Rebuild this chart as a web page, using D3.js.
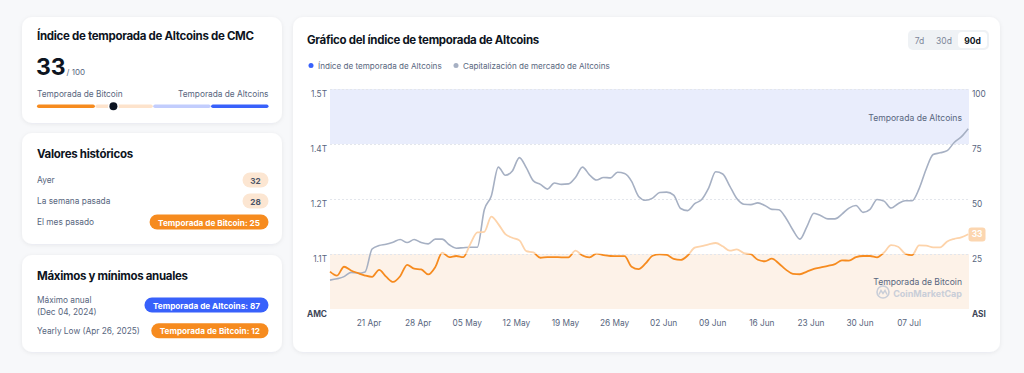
<!DOCTYPE html>
<html><head><meta charset="utf-8">
<script src="https://cdn.jsdelivr.net/npm/d3@7"></script>
<style>
html,body{margin:0;padding:0;background:#f7f8fa;}
svg{display:block;font-family:Inter,"Noto Sans",sans-serif;}
</style></head>
<body><svg id="c" width="1024" height="373"></svg>
<script>
// ---------- DATA ----------
const startDate = new Date(2025, 3, 15, 12); // first daily point (Apr 15)
const altIndex = [17,15.2,19.2,17.5,16.3,15.2,14.6,17.8,14.7,12.3,14.9,20.1,18.3,18,15.7,19,25.6,23.6,24.1,23.6,
  29.5,34.8,35.1,42,38.6,34,32.4,31.2,26.3,25.7,23.3,23.6,23.6,23.5,23.5,26.5,24.3,23.5,25.2,24.5,
  24.1,24,24,19.2,18.1,20.7,24.2,24.8,24.6,22.8,22.3,24.3,27.9,28.6,29.4,30,28.5,26.5,27.1,25.4,
  24.9,22.4,21.7,22.9,20.7,17.9,16,15.8,17,18.2,18.9,19.6,20.4,22.1,22,23.6,24.1,24.1,23.5,25.7,
  29,28.3,25.2,24.5,28.9,28.8,28,28,30.7,31.9,32.6,34];
const altMcap = [1.057,1.060,1.065,1.075,1.073,1.076,1.129,1.137,1.140,1.145,1.151,1.144,1.151,1.144,1.141,1.152,1.152,1.139,1.131,1.132,
  1.133,1.133,1.220,1.252,1.319,1.300,1.310,1.341,1.317,1.287,1.279,1.268,1.282,1.279,1.280,1.295,1.319,1.301,1.289,1.295,
  1.294,1.307,1.304,1.286,1.251,1.242,1.247,1.260,1.261,1.254,1.223,1.218,1.234,1.244,1.271,1.308,1.303,1.275,1.246,1.233,
  1.232,1.236,1.230,1.221,1.220,1.201,1.173,1.152,1.181,1.212,1.206,1.199,1.199,1.210,1.224,1.230,1.214,1.221,1.244,1.240,
  1.224,1.234,1.241,1.241,1.269,1.314,1.348,1.352,1.357,1.376,1.389,1.408];
const indexTicks = [25, 50, 75, 100];
const mcapTickLabels = ["1.1T", "1.2T", "1.4T", "1.5T"];
const currentValue = 33;
const histLabels = ["Ayer", "La semana pasada", "El mes pasado"];
const histValues = [32, 28, 25];
const histPills = ["32", "28", "Temporada de Bitcoin: 25"];
const yearLabels = [["Máximo anual", "(Dec 04, 2024)"], ["Yearly Low (Apr 26, 2025)"]];
const yearPills = ["Temporada de Altcoins: 87", "Temporada de Bitcoin: 12"];
const yearValues = [87, 12];
const ranges = ["7d", "30d", "90d"];

// ---------- DRAW ----------
const svg = d3.select("#c");
const C = {orange:"#f68b1f", peach:"#fde3cc", lblue:"#c2cdfd", blue:"#3861fb", text:"#0d1421", sub:"#58667e"};
const TS = 8.3; // small text size

const defs = svg.append("defs");
const f = defs.append("filter").attr("id","sh").attr("x","-5%").attr("y","-10%").attr("width","110%").attr("height","130%");
f.append("feDropShadow").attr("dx",0).attr("dy",1).attr("stdDeviation",2).attr("flood-color","#1e2a4a").attr("flood-opacity",0.07);

function card(x,y,w,h){
  svg.append("rect").attr("x",x).attr("y",y).attr("width",w).attr("height",h).attr("rx",10)
    .attr("fill","#fff").attr("filter","url(#sh)");
}
function title(x,y,t){
  svg.append("text").attr("x",x).attr("y",y).attr("font-size",11.5).attr("letter-spacing",-0.3)
    .attr("font-weight",700).attr("fill",C.text).text(t);
}
function label(x,y,t){
  return svg.append("text").attr("x",x).attr("y",y).attr("dominant-baseline","central").attr("font-size",TS).attr("fill",C.sub).text(t);
}
function pill(xr, cy, text, bg, fg, w){
  const g = svg.append("g");
  const t = g.append("text").attr("font-size",8.2).attr("font-weight",700).attr("fill",fg)
    .attr("text-anchor","middle").attr("dominant-baseline","central").text(text);
  const tw = t.node().getComputedTextLength();
  const pw = w || tw + 17;
  g.insert("rect","text").attr("x",xr-pw).attr("y",cy-7.5).attr("width",pw).attr("height",15).attr("rx",7.5).attr("fill",bg);
  t.attr("x",xr-pw/2).attr("y",cy+0.5);
}

// Card 1
card(22,17,260,106);
title(37,40,"Índice de temporada de Altcoins de CMC");
svg.append("text").attr("x",36).attr("y",74.5).attr("font-size",23).attr("font-weight",700).attr("fill",C.text).text(currentValue);
svg.append("text").attr("x",66.5).attr("y",74.5).attr("font-size",8).attr("fill",C.sub).text("/ 100");
label(37,93.5,"Temporada de Bitcoin");
label(268.5,93.5,"Temporada de Altcoins").attr("text-anchor","end");
const gx = d3.scaleLinear().domain([0,100]).range([37,268.5]);
[[0,25,C.orange],[25,50,C.peach],[50,75,C.lblue],[75,100,C.blue]].forEach(s=>{
  svg.append("rect").attr("x",gx(s[0])+(s[0]?0.5:0)).attr("y",104.5).attr("width",gx(s[1])-gx(s[0])-(s[0]?0.5:0)).attr("height",3.5)
    .attr("rx",1.75).attr("fill",s[2]);
});
svg.append("circle").attr("cx",gx(currentValue)).attr("cy",106.2).attr("r",5.5).attr("fill","#fff");
svg.append("circle").attr("cx",gx(currentValue)).attr("cy",106.2).attr("r",4).attr("fill",C.text);

// Card 2
card(22,133,260,111);
title(37,158,"Valores históricos");
const rowsY = [180,201,222];
histLabels.forEach((l,i)=>{
  label(37,rowsY[i],l);
  const bt = histValues[i] <= 25;
  pill(268.5, rowsY[i], histPills[i], bt ? C.orange : "#fce6d2", bt ? "#fff" : "#4a5468", bt ? null : 26);
});

// Card 3
card(22,255,260,97);
title(37,280,"Máximos y mínimos anuales");
label(37,299.5,yearLabels[0][0]);
label(37,312,yearLabels[0][1]);
label(37,330.7,yearLabels[1][0]);
pill(268.5, 305, yearPills[0], yearValues[0] >= 75 ? C.blue : C.orange, "#fff");
pill(268.5, 330.7, yearPills[1], yearValues[1] <= 25 ? C.orange : C.blue, "#fff");

// Card 4 (chart)
card(293,17,707,335);
title(307,44,"Gráfico del índice de temporada de Altcoins");
svg.append("rect").attr("x",908).attr("y",30).attr("width",81).attr("height",20).attr("rx",5).attr("fill","#eff2f5");
svg.append("rect").attr("x",958).attr("y",32).attr("width",29).attr("height",16).attr("rx",4).attr("fill","#fff");
const rx = [919.5,944,972.5];
ranges.forEach((r,i)=>{
  svg.append("text").attr("x",rx[i]).attr("y",40.5).attr("dominant-baseline","central").attr("text-anchor","middle")
    .attr("font-size",8.5).attr("font-weight",i===2?700:400).attr("fill",i===2?C.text:"#7d879a").text(r);
});
// legend
svg.append("circle").attr("cx",311).attr("cy",65.5).attr("r",2.5).attr("fill",C.blue);
svg.append("text").attr("x",318).attr("y",65.5).attr("dominant-baseline","central").attr("font-size",8.1).attr("fill",C.sub).text("Índice de temporada de Altcoins");
svg.append("circle").attr("cx",456).attr("cy",65.5).attr("r",2.5).attr("fill","#a6b0c3");
svg.append("text").attr("x",463).attr("y",65.5).attr("dominant-baseline","central").attr("font-size",8.1).attr("fill",C.sub).text("Capitalización de mercado de Altcoins");

// scales
const X0 = 330, X1 = 969, Y0 = 309, Y1 = 89;
const dates = altIndex.map((_,i)=>d3.timeDay.offset(startDate,i));
const x = d3.scaleTime().domain([startDate, new Date(startDate.getTime()+91.11*864e5)]).range([X0,X1]);
const yR = d3.scaleLinear().domain([0,100]).range([Y0,Y1]);
const yL = d3.scaleLinear().domain([0.99,1.5]).range([Y0,Y1]);

// bands
svg.append("rect").attr("x",X0).attr("y",yR(100)).attr("width",X1-X0).attr("height",yR(75)-yR(100)).attr("fill","#e9edfc");
svg.append("rect").attr("x",X0).attr("y",yR(25)).attr("width",X1-X0).attr("height",yR(0)-yR(25)).attr("fill","#fdf2e8");
// grid
svg.append("g").selectAll("line").data([100,75,50,25]).join("line")
  .attr("x1",X0).attr("x2",X1).attr("y1",d=>yR(d)+0.5).attr("y2",d=>yR(d)+0.5)
  .attr("stroke","#e3e6ec").attr("stroke-dasharray","2,2").attr("stroke-width",1);

svg.append("text").attr("x",962).attr("y",117.5).attr("dominant-baseline","central").attr("text-anchor","end")
  .attr("font-size",8.6).attr("fill",C.sub).text("Temporada de Altcoins");
svg.append("text").attr("x",962).attr("y",281.5).attr("dominant-baseline","central").attr("text-anchor","end")
  .attr("font-size",8.6).attr("fill",C.sub).text("Temporada de Bitcoin");
// watermark
svg.append("circle").attr("cx",883).attr("cy",292).attr("r",6).attr("fill","none").attr("stroke","#c9ced8").attr("stroke-width",1.6);
svg.append("path").attr("d","M879,294.5 l2,-4 l2,3 l2,-3 l2,4").attr("fill","none").attr("stroke","#c9ced8").attr("stroke-width",1.4);
svg.append("text").attr("x",962).attr("y",293).attr("dominant-baseline","central").attr("text-anchor","end")
  .attr("font-size",9).attr("font-weight",700).attr("fill","#c9ced8").text("CoinMarketCap");

// axes
const xAxis = d3.axisBottom(x).tickValues(d3.timeMonday.range(new Date(2025,3,21), new Date(2025,6,8))).tickFormat(d3.timeFormat("%d %b")).tickSize(0).tickPadding(8);
const gxA = svg.append("g").attr("transform",`translate(0,${Y0+3})`).call(xAxis);
gxA.select(".domain").remove();
gxA.selectAll("text").attr("font-size",8.3).attr("fill",C.sub).attr("font-family","Inter");

const lAxis = d3.axisLeft(yR).tickValues(indexTicks).tickFormat((d,i)=>mcapTickLabels[i]).tickSize(0).tickPadding(0);
const gl = svg.append("g").attr("transform","translate(327,4.5)").call(lAxis);
gl.select(".domain").remove();
gl.selectAll("text").attr("font-size",8.3).attr("fill",C.sub).attr("font-family","Inter");
const rAxis = d3.axisRight(yR).tickValues(indexTicks).tickSize(0).tickPadding(0);
const gr = svg.append("g").attr("transform","translate(972,4.5)").call(rAxis);
gr.select(".domain").remove();
gr.selectAll("text").attr("font-size",8.3).attr("fill",C.sub).attr("font-family","Inter");
svg.append("text").attr("x",327).attr("y",313.5).attr("dominant-baseline","central").attr("text-anchor","end").attr("font-size",8.3).attr("font-weight",700).attr("fill","#3d4658").text("AMC");
svg.append("text").attr("x",972).attr("y",313.5).attr("dominant-baseline","central").attr("font-size",8.3).attr("font-weight",700).attr("fill","#3d4658").text("ASI");

// lines
const mLine = d3.line().x((d,i)=>x(dates[i])).y(d=>yL(d)).curve(d3.curveMonotoneX);
svg.append("path").datum(altMcap).attr("d",mLine).attr("fill","none").attr("stroke","#a6b0c3").attr("stroke-width",1.6);

defs.append("clipPath").attr("id","below").append("rect").attr("x",0).attr("y",yR(25)).attr("width",1024).attr("height",200);
defs.append("clipPath").attr("id","above").append("rect").attr("x",0).attr("y",0).attr("width",1024).attr("height",yR(25));
const iLine = d3.line().x((d,i)=>x(dates[i])).y(d=>yR(d)).curve(d3.curveMonotoneX);
svg.append("path").datum(altIndex).attr("d",iLine).attr("fill","none").attr("stroke","#fdd3aa").attr("stroke-width",1.8).attr("clip-path","url(#above)");
svg.append("path").datum(altIndex).attr("d",iLine).attr("fill","none").attr("stroke",C.orange).attr("stroke-width",1.8).attr("clip-path","url(#below)");

// value badge
svg.append("rect").attr("x",968.5).attr("y",yR(currentValue)-9).attr("width",17).attr("height",14).attr("rx",3).attr("fill","#fcd6b0");
svg.append("text").attr("x",977).attr("y",yR(currentValue)-2).attr("dominant-baseline","central").attr("text-anchor","middle")
  .attr("font-size",8.3).attr("font-weight",700).attr("fill","#fff").text(currentValue);
</script></body></html>
